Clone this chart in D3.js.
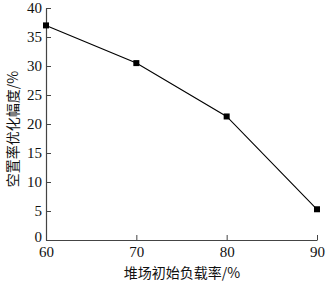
<!DOCTYPE html>
<html><head><meta charset="utf-8">
<script src="https://cdn.jsdelivr.net/npm/d3@7"></script>
<style>body{margin:0;background:#fff}svg{display:block}</style>
</head><body>
<script>
const loadRate = [60, 70, 80, 90];
const optimization = [37.0, 30.5, 21.3, 5.3];
const xTicks = [60, 70, 80, 90];
const yTicks = [0, 5, 10, 15, 20, 25, 30, 35, 40];
const xTitle = "堆场初始负载率/%";
const yTitle = "空置率优化幅度/%";

const W = 333, H = 284;
const m = {left: 46, right: 16, top: 8, bottom: 44};
const svg = d3.select("body").append("svg").attr("width", W).attr("height", H);
const x = d3.scaleLinear().domain([60, 90]).range([m.left, W - m.right]);
const y = d3.scaleLinear().domain([0, 40]).range([H - m.bottom, m.top]);
const serif = "'Liberation Serif','DejaVu Serif',serif";
const axisColor = "#444";

const gx = svg.append("g").attr("transform", `translate(0,${H - m.bottom})`)
  .call(d3.axisBottom(x).tickValues(xTicks).tickSizeInner(-5).tickSizeOuter(0).tickPadding(6));
const gy = svg.append("g").attr("transform", `translate(${m.left},0)`)
  .call(d3.axisLeft(y).tickValues(yTicks).tickSizeInner(-5).tickSizeOuter(0).tickPadding(9));
[gx, gy].forEach(g => {
  g.select(".domain").attr("stroke", axisColor).attr("stroke-width", 1.2);
  g.selectAll(".tick line").attr("stroke", axisColor);
  g.selectAll(".tick text").attr("fill", "#111").style("font-family", serif).style("font-size", "15px");
});
gy.selectAll(".tick text").attr("dx", "5");
gy.selectAll(".tick text").filter(d => d === 0).attr("dy", "0.1em");

const line = d3.line().x((d, i) => x(loadRate[i])).y(d => y(d));
svg.append("path").datum(optimization).attr("d", line)
  .attr("fill", "none").attr("stroke", "#000").attr("stroke-width", 1.1);
svg.selectAll("rect.pt").data(optimization).enter().append("rect")
  .attr("x", (d, i) => x(loadRate[i]) - 3).attr("y", d => y(d) - 3)
  .attr("width", 6).attr("height", 6).attr("fill", "#000");

const cjk = "'Noto Sans CJK SC','Noto Sans',sans-serif";
svg.append("text").attr("x", 182).attr("y", 278).attr("text-anchor", "middle")
  .style("font-family", cjk).style("font-size", "14px").attr("fill", "#111").text(xTitle);
svg.append("text").attr("transform", `translate(18,129) rotate(-90)`).attr("text-anchor", "middle")
  .style("font-family", cjk).style("font-size", "14px").attr("fill", "#111").text(yTitle);
</script>
</body></html>
